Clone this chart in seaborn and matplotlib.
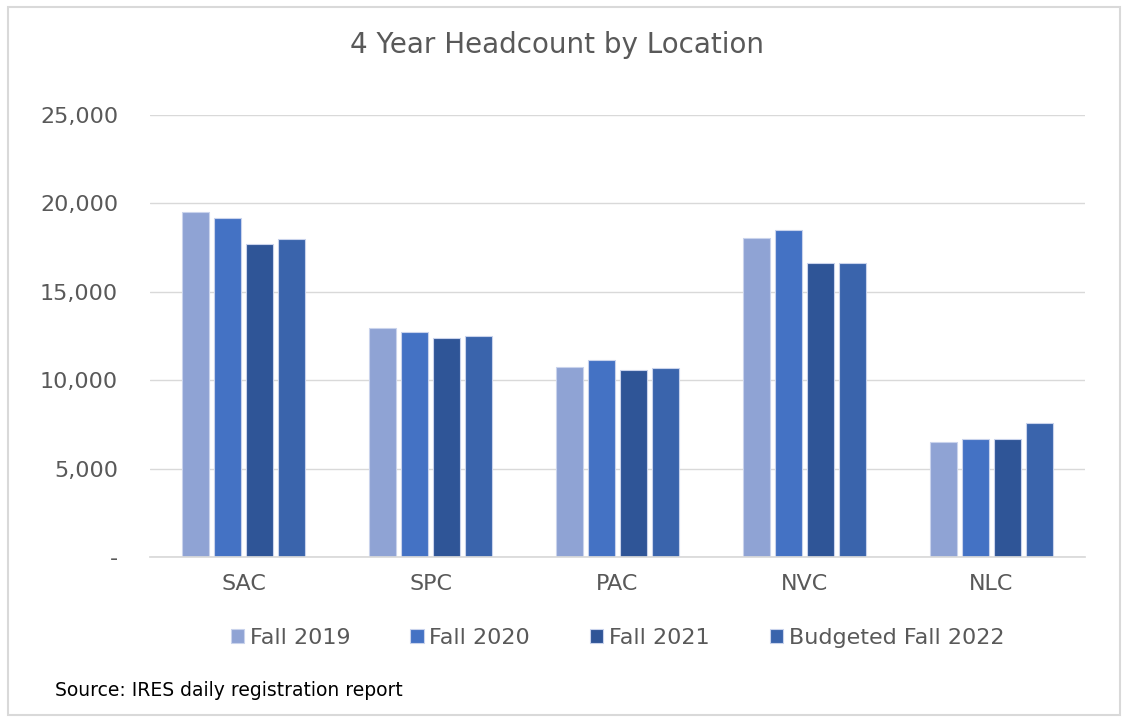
import pandas as pd
import matplotlib.pyplot as plt
import seaborn as sns
from matplotlib.ticker import FuncFormatter

# chart data
locations = ['SAC', 'SPC', 'PAC', 'NVC', 'NLC']
terms = ['Fall 2019', 'Fall 2020', 'Fall 2021', 'Budgeted Fall 2022']
fall_2019 = [19500, 12950, 10750, 18050, 6500]
fall_2020 = [19170, 12730, 11140, 18500, 6670]
fall_2021 = [17700, 12390, 10580, 16630, 6670]
budget_2022 = [17990, 12500, 10690, 16630, 7580]
colors = ['#8FA3D4', '#4472C4', '#2F5597', '#3A64AC']

df = pd.DataFrame({
    'Location': locations * 4,
    'Term': [t for t in terms for _ in locations],
    'Headcount': fall_2019 + fall_2020 + fall_2021 + budget_2022,
})

sns.set_theme(style='white')
plt.rcParams['font.family'] = ['DejaVu Sans']
grey = '#595959'

fig = plt.figure(figsize=(11.23, 7.19), dpi=100)
ax = fig.add_axes([0.1336, 0.2253, 0.8325, 0.6147])

sns.barplot(data=df, x='Location', y='Headcount', hue='Term',
            hue_order=terms, order=locations, palette=colors, saturation=1,
            width=0.69, gap=0.16, ax=ax, legend=True,
            edgecolor='#C9D3EC', linewidth=0.8)

ax.set_ylim(0, 25000)
ax.set_yticks(range(0, 25001, 5000))
ax.yaxis.set_major_formatter(FuncFormatter(lambda v, p: '-' if v == 0 else f'{int(v):,}'))
ax.grid(axis='y', color='#D9D9D9', lw=1)
ax.set_axisbelow(True)
for s in ['top', 'right', 'left']:
    ax.spines[s].set_visible(False)
ax.spines['bottom'].set_color('#D9D9D9')
ax.set_xlabel('')
ax.set_ylabel('')
ax.tick_params(axis='both', colors=grey, labelsize=16, length=0)
ax.tick_params(axis='y', pad=23)
ax.tick_params(axis='x', pad=12)

handles, labels = ax.get_legend_handles_labels()
ax.legend(handles, labels, loc='center', bbox_to_anchor=(0.5, -0.183),
          ncol=4, frameon=False, fontsize=16, labelcolor=grey,
          handlelength=0.6, handleheight=0.6, handletextpad=0.25,
          columnspacing=2.7)

fig.text(0.496, 0.937, '4 Year Headcount by Location', ha='center', va='center',
         fontsize=20, color=grey)
fig.text(0.049, 0.04, 'Source: IRES daily registration report', ha='left',
         va='center', fontsize=13.5, color='black')

# light frame around the whole chart
fig.patches.append(plt.Rectangle((0.007, 0.005), 0.99, 0.985, transform=fig.transFigure,
                                 fill=False, edgecolor='#D9D9D9', lw=1.5))

fig.savefig('out.png', dpi=100)
